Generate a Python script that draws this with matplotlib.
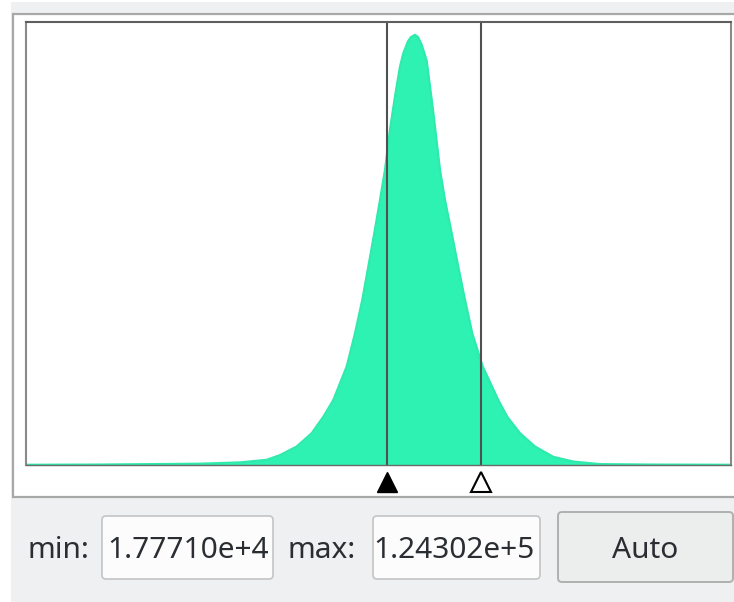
import matplotlib
matplotlib.use("Agg")
import matplotlib.pyplot as plt
from matplotlib.patches import Rectangle, FancyBboxPatch
from matplotlib.transforms import Affine2D, Bbox, blended_transform_factory

plt.rcParams['font.family'] = ['Noto Sans', 'DejaVu Sans']

# ---- data ----
bin_values = [-391350, -307490, -194160, -148820, -118570, -103490, -84570,
              -67570, -54420, -43090, -27900, -18500, -10220, -3420, 3380,
              9840, 15500, 21170, 26840, 32500, 36240, 41570, 44970, 49500,
              52900, 57100, 62760, 66500, 70240, 77840, 83500, 91100, 98580,
              106170, 114440, 126230, 143910, 154110, 168500, 185500, 206240,
              228910, 259160, 315830, 407630]
counts = [0.5, 1, 3, 6, 12, 23, 43, 74, 112, 151, 229, 306, 384, 461, 539,
          616, 686, 780, 857, 926, 957, 985, 995, 1000, 995, 977, 940, 880,
          820, 686, 616, 539, 461, 384, 306, 229, 151, 112, 74, 43, 19, 8,
          2, 1, 0.5]
range_min = 1.77710e4
range_max = 1.24302e5
min_label = "1.77710e+4"
max_label = "1.24302e+5"
x_limits = (-391350, 407630)

W, H = 734, 602
fig = plt.figure(figsize=(W / 100, H / 100), dpi=100)
fig.patch.set_facecolor('white')

# pixel transform (origin top-left)
T = Affine2D().scale(1, -1).translate(0, H)

def rect(x0, y0, x1, y1, **kw):
    p = Rectangle((x0, y0), x1 - x0, y1 - y0, transform=T, zorder=0.1, **kw)
    fig.patches.append(p)
    return p

def rbox(x0, y0, x1, y1, r=4, **kw):
    p = FancyBboxPatch((x0, y0), x1 - x0, y1 - y0,
                       boxstyle=f"round,pad=0,rounding_size={r}",
                       transform=T, zorder=0.2, **kw)
    fig.patches.append(p)
    return p

# background panels
rect(11, 2, 740, 610, facecolor='#eff0f1', edgecolor='none')
rect(13, 14, 740, 497, facecolor='white', edgecolor='#a8a8a8', linewidth=1.6)

# histogram axes
ax_l, ax_r, ax_t, ax_b = 26, 731, 22, 465
ax = fig.add_axes([ax_l / W, 1 - ax_b / H, (ax_r - ax_l) / W, (ax_b - ax_t) / H])
ax.set_zorder(5)
ax.patch.set_facecolor('white')
ax.fill_between(bin_values, counts, 0, color='#2ef2b2', linewidth=0)
ax.plot(bin_values, counts, color='#2eeaad', linewidth=1.6, solid_capstyle='butt')
ax.set_xlim(*x_limits)
ax.set_ylim(0, 1030)
ax.set_xticks([])
ax.set_yticks([])
for side, sp in ax.spines.items():
    sp.set_linewidth(1.5)
    sp.set_color('#8a8a8a')
ax.spines['top'].set_color('#5e5e5e')
ax.spines['bottom'].set_color('#6a6a6a')
ax.spines['bottom'].set_linewidth(1.0)

ax.axvline(range_min, color='#505050', linewidth=1.5)
ax.axvline(range_max, color='#505050', linewidth=1.5)

bt = blended_transform_factory(ax.transData, ax.transAxes)
ym = -(482 - ax_b) / (ax_b - ax_t)
ax.plot([range_min], [ym], marker='^', markersize=15, color='black',
        transform=bt, clip_on=False, linestyle='none')
ax.plot([range_max], [ym], marker='^', markersize=14, markerfacecolor='white',
        markeredgecolor='black', markeredgewidth=1.5, transform=bt,
        clip_on=False, linestyle='none')

# controls
fs = 21.5
txt_color = '#2a2e32'
fig.text(27, 558, "min:", transform=T, fontsize=fs, color=txt_color,
         ha='left', va='baseline')
fig.text(288, 558, "max:", transform=T, fontsize=fs, color=txt_color,
         ha='left', va='baseline')

rbox(102, 516, 273, 579, r=4, facecolor='#fcfcfc', edgecolor='#c4c4c4', linewidth=1.2)
rbox(373, 516, 540, 579, r=4, facecolor='#fcfcfc', edgecolor='#c4c4c4', linewidth=1.2)
rbox(558, 512, 733, 582, r=4, facecolor='#eceded', edgecolor='#b0b0b0', linewidth=1.4)

t1 = fig.text(107, 558, min_label, transform=T, fontsize=fs, color=txt_color,
              ha='left', va='baseline')
t2 = fig.text(535, 558, max_label, transform=T, fontsize=fs, color=txt_color,
              ha='right', va='baseline')
t2.set_clip_box(Bbox.from_extents(374, H - 579, 539, H - 516))
t2.set_clip_on(True)
fig.text(645.5, 558, "Auto", transform=T, fontsize=fs, color=txt_color,
         ha='center', va='baseline')

fig.savefig("out.png", dpi=100, facecolor=fig.get_facecolor())
